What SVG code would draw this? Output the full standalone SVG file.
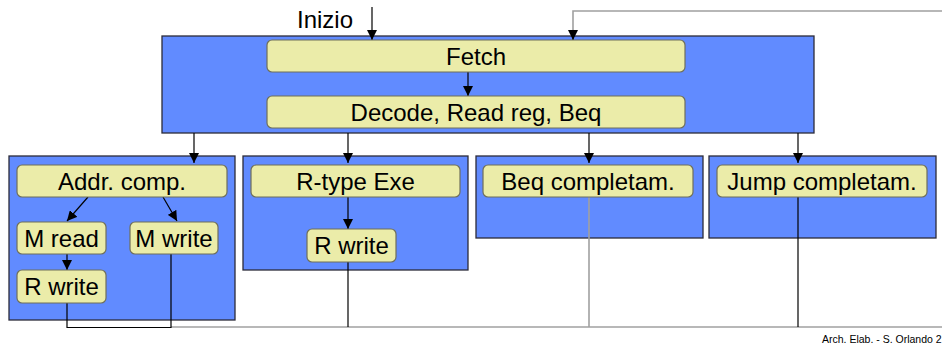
<svg xmlns="http://www.w3.org/2000/svg" width="942" height="344" viewBox="0 0 942 344">
<style>
.panel{fill:#618bff;stroke:#2b2b3a;stroke-width:1.3}
.st{fill:#ebeca9;stroke:#6f6f5a;stroke-width:1.2}
.t{font-family:"Liberation Sans",Arial,sans-serif;font-size:24px;fill:#000;text-anchor:middle}
.k{stroke:#000;stroke-width:1.2;fill:none}
.g{stroke:#a0a0a0;stroke-width:1.6;fill:none}
</style>
<defs>
<marker id="ah" viewBox="0 0 10 10" refX="10" refY="5" markerWidth="10" markerHeight="10" markerUnits="userSpaceOnUse" orient="auto">
<path d="M0,0 L10,5 L0,10 z" fill="#000"/>
</marker>
</defs>
<g id="panel-top"><rect class="panel" x="162" y="36" width="652" height="97"/></g>
<g id="panel-mem"><rect class="panel" x="9" y="156" width="226" height="164"/></g>
<g id="panel-r"><rect class="panel" x="243" y="156" width="225" height="114"/></g>
<g id="panel-beq"><rect class="panel" x="476" y="156" width="227" height="82"/></g>
<g id="panel-jump"><rect class="panel" x="709" y="156" width="227" height="82"/></g>

<g id="connectors">
<line class="k" x1="372" y1="7" x2="372" y2="40" marker-end="url(#ah)"/>
<polyline class="g" points="942,11 573,11 573,34"/>
<line class="k" x1="573" y1="32" x2="573" y2="40" marker-end="url(#ah)"/>
<line class="k" x1="468" y1="72" x2="468" y2="96" marker-end="url(#ah)"/>
<line class="k" x1="194" y1="133" x2="194" y2="163" marker-end="url(#ah)"/>
<line class="k" x1="348" y1="133" x2="348" y2="163" marker-end="url(#ah)"/>
<line class="k" x1="589" y1="133" x2="589" y2="163" marker-end="url(#ah)"/>
<line class="k" x1="798" y1="133" x2="798" y2="163" marker-end="url(#ah)"/>
<line class="k" x1="88" y1="197" x2="67" y2="221" marker-end="url(#ah)"/>
<line class="k" x1="163" y1="197" x2="177" y2="221" marker-end="url(#ah)"/>
<line class="k" x1="67" y1="254" x2="67" y2="270" marker-end="url(#ah)"/>
<line class="k" x1="348" y1="197" x2="348" y2="229" marker-end="url(#ah)"/>
<line class="g" x1="171" y1="327" x2="942" y2="327"/>
<polyline class="k" points="67,303 67,327.5 171,327.5 171,254"/>
<line class="k" x1="348" y1="262" x2="348" y2="327"/>
<line class="g" x1="589" y1="197" x2="589" y2="327"/>
<line class="k" x1="798" y1="197" x2="798" y2="327"/>
</g>

<g id="fetch"><rect class="st" x="267" y="40" width="418" height="32" rx="5"/><text class="t" x="476" y="64.5">Fetch</text></g>
<g id="decode"><rect class="st" x="267" y="96" width="418" height="32" rx="5"/><text class="t" x="476" y="120.5">Decode, Read reg, Beq</text></g>
<g id="addr"><rect class="st" x="17" y="165" width="210" height="32" rx="5"/><text class="t" x="122" y="189.5">Addr. comp.</text></g>
<g id="mread"><rect class="st" x="17" y="222" width="89" height="32" rx="5"/><text class="t" x="61.5" y="246.5">M read</text></g>
<g id="mwrite"><rect class="st" x="130" y="222" width="88" height="32" rx="5"/><text class="t" x="174" y="246.5">M write</text></g>
<g id="rwrite1"><rect class="st" x="17" y="270" width="89" height="33" rx="5"/><text class="t" x="61.5" y="295">R write</text></g>
<g id="rtype"><rect class="st" x="251" y="165" width="209" height="32" rx="5"/><text class="t" x="355.5" y="189.5">R-type Exe</text></g>
<g id="rwrite2"><rect class="st" x="307" y="229" width="89" height="33" rx="5"/><text class="t" x="351.5" y="254">R write</text></g>
<g id="beq"><rect class="st" x="483" y="165" width="210" height="32" rx="5"/><text class="t" x="588" y="189.5">Beq completam.</text></g>
<g id="jump"><rect class="st" x="717" y="165" width="210" height="32" rx="5"/><text class="t" x="822" y="189.5">Jump completam.</text></g>

<text class="t" x="325" y="28">Inizio</text>
<text x="822" y="343" font-family="'Liberation Sans',Arial,sans-serif" font-size="10.5" fill="#000">Arch. Elab. - S. Orlando 2</text>
</svg>
